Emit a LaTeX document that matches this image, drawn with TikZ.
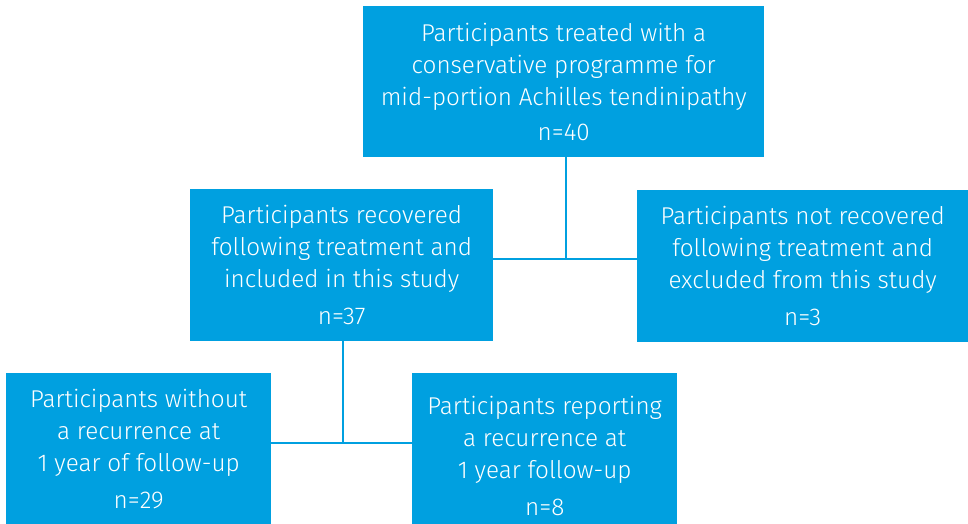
\documentclass[tikz,border=0pt]{standalone}
\usepackage{fontspec}
\setmainfont{Fira Sans Light}
\definecolor{boxblue}{RGB}{0,160,224}
\begin{document}
\begin{tikzpicture}[x=1pt,y=-1pt,
  box/.style={fill=boxblue, text=white, align=center, inner sep=0pt,
    anchor=north west, font=\fontsize{24.3}{32}\selectfont},
  link/.style={draw=boxblue, line width=2.5pt}]
\useasboundingbox (0,0) rectangle (968,523);

% boxes
\node[box, minimum width=401pt, minimum height=151pt] (treated) at (363,6)
  {Participants treated with a\\conservative programme for\\mid-portion Achilles tendinipathy\\[3pt]n=40};
\node[box, minimum width=303pt, minimum height=152pt] (recovered) at (190,189)
  {Participants recovered\\following treatment and\\included in this study\\[5pt]n=37};
\node[box, minimum width=331pt, minimum height=152pt] (notrec) at (637,190)
  {Participants not recovered\\following treatment and\\excluded from this study\\[5pt]n=3};
\node[box, minimum width=265pt, minimum height=152pt] (without) at (6,373)
  {Participants without\\a recurrence at\\1 year of follow-up\\[5pt]n=29};
% this box runs off the lower edge, which lowers its text a little
\node[box, minimum width=265pt, minimum height=166pt] (with) at (412,373)
  {Participants reporting\\a recurrence at\\1 year follow-up\\[5pt]n=8};

% junctions
\coordinate (j1) at (566,259);
\coordinate (j2) at (343,443);

% connectors
\draw[link] (treated.south -| j1) -- (j1);
\draw[link] (recovered.east |- j1) -- (notrec.west |- j1);
\draw[link] (recovered.south -| j2) -- (j2);
\draw[link] (without.east |- j2) -- (with.west |- j2);
\end{tikzpicture}
\end{document}
